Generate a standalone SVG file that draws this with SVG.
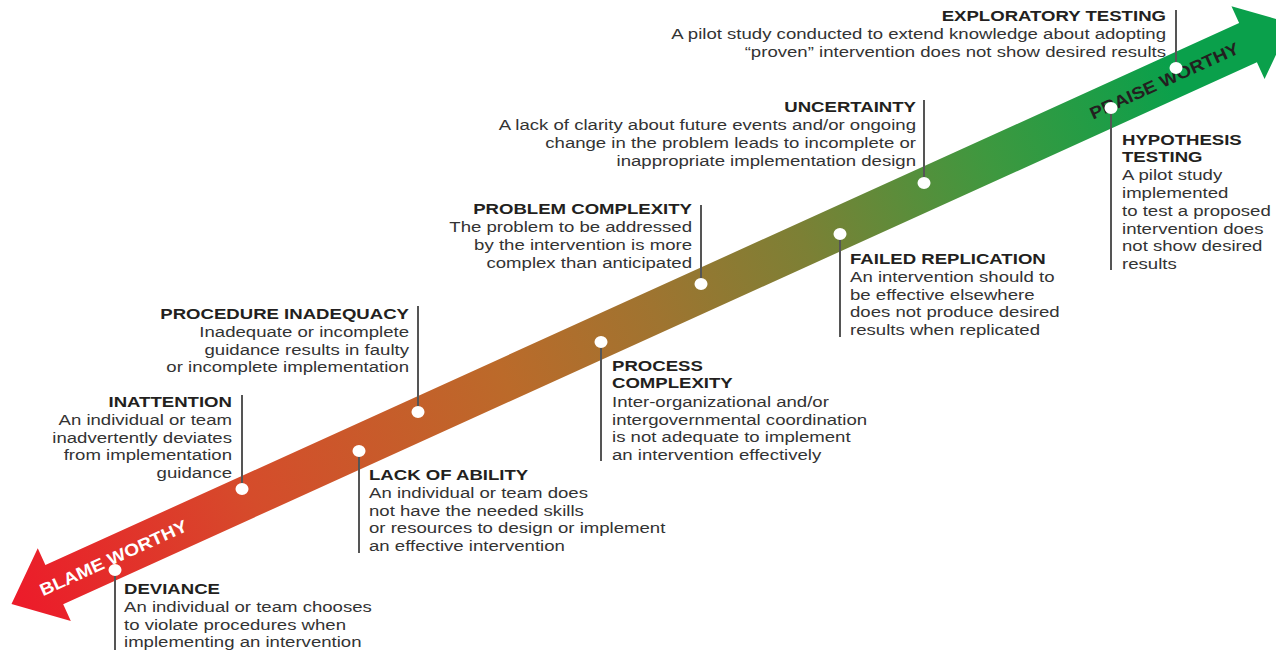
<svg xmlns="http://www.w3.org/2000/svg" width="1276" height="653" viewBox="0 0 1276 653">
<style>
.t{font-family:"Liberation Sans",Arial,sans-serif;font-size:15px;font-weight:bold;fill:#231f20}
.b{font-family:"Liberation Sans",Arial,sans-serif;font-size:15px;fill:#333}
.r{text-anchor:end}
.ln{stroke:#555;stroke-width:2;fill:none}
.dot{fill:#fff}
.lab{font-family:"Liberation Sans",Arial,sans-serif;font-size:17px;font-weight:bold;text-anchor:middle}
</style>
<defs>
<linearGradient id="grad" gradientUnits="userSpaceOnUse" x1="11" y1="0" x2="1276" y2="0">
<stop offset="0" stop-color="#ec1c2a"/>
<stop offset="0.2" stop-color="#d54c2b"/>
<stop offset="0.42" stop-color="#bb6a2a"/>
<stop offset="0.55" stop-color="#9f7430"/>
<stop offset="0.68" stop-color="#7c8035"/>
<stop offset="0.84" stop-color="#3e983f"/>
<stop offset="1" stop-color="#0aa04b"/>
</linearGradient>
</defs>
<rect width="1276" height="653" fill="#fff"/>
<g id="axis-arrow" transform="translate(11.5,604.1) rotate(-24.42)">
<polygon points="0,0 47,-40 47,-21.5 1358,-21.5 1358,-40 1405,0 1358,40 1358,21.5 47,21.5 47,40" fill="url(#grad)" transform="rotate(24.42) translate(-11.5,-604.1) translate(11.5,604.1) rotate(-24.42)"/>
<text class="lab" x="112" y="6" fill="#fff" textLength="160" lengthAdjust="spacingAndGlyphs">BLAME WORTHY</text>
<text class="lab" x="1266" y="6" fill="#231f20" textLength="162" lengthAdjust="spacingAndGlyphs">PRAISE WORTHY</text>
</g>
<g id="connectors">
<line class="ln" x1="1176" y1="10" x2="1176" y2="68"/>
<line class="ln" x1="924" y1="100" x2="924" y2="183"/>
<line class="ln" x1="701" y1="205" x2="701" y2="284"/>
<line class="ln" x1="418" y1="306" x2="418" y2="412"/>
<line class="ln" x1="242" y1="395" x2="242" y2="489"/>
<line class="ln" x1="115" y1="570" x2="115" y2="650"/>
<line class="ln" x1="359" y1="451" x2="359" y2="553"/>
<line class="ln" x1="601" y1="342" x2="601" y2="461"/>
<line class="ln" x1="840" y1="234" x2="840" y2="337"/>
<line class="ln" x1="1111" y1="108" x2="1111" y2="270"/>
</g>
<g id="exploratory-testing">
<ellipse class="dot" cx="1176" cy="68" rx="6.5" ry="6"/>
<g transform="translate(1166,0) scale(1.24,1)">
<text class="t r" x="0" y="21.5">EXPLORATORY TESTING</text>
<text class="b r" x="0" y="39">A pilot study conducted to extend knowledge about adopting</text>
<text class="b r" x="0" y="57">“proven” intervention does not show desired results</text>
</g>
</g>
<g id="uncertainty">
<ellipse class="dot" cx="924" cy="183" rx="6.5" ry="6"/>
<g transform="translate(916,0) scale(1.24,1)">
<text class="t r" x="0" y="112.5">UNCERTAINTY</text>
<text class="b r" x="0" y="130">A lack of clarity about future events and/or ongoing</text>
<text class="b r" x="0" y="148">change in the problem leads to incomplete or</text>
<text class="b r" x="0" y="166">inappropriate implementation design</text>
</g>
</g>
<g id="problem-complexity">
<ellipse class="dot" cx="701" cy="284" rx="6.5" ry="6"/>
<g transform="translate(692,0) scale(1.24,1)">
<text class="t r" x="0" y="214.5">PROBLEM COMPLEXITY</text>
<text class="b r" x="0" y="232">The problem to be addressed</text>
<text class="b r" x="0" y="250">by the intervention is more</text>
<text class="b r" x="0" y="268">complex than anticipated</text>
</g>
</g>
<g id="procedure-inadequacy">
<ellipse class="dot" cx="418" cy="412" rx="6.5" ry="6"/>
<g transform="translate(409,0) scale(1.24,1)">
<text class="t r" x="0" y="319.5">PROCEDURE INADEQUACY</text>
<text class="b r" x="0" y="337">Inadequate or incomplete</text>
<text class="b r" x="0" y="355">guidance results in faulty</text>
<text class="b r" x="0" y="372.5">or incomplete implementation</text>
</g>
</g>
<g id="inattention">
<ellipse class="dot" cx="242" cy="489" rx="6.5" ry="6"/>
<g transform="translate(232,0) scale(1.24,1)">
<text class="t r" x="0" y="407.5">INATTENTION</text>
<text class="b r" x="0" y="425">An individual or team</text>
<text class="b r" x="0" y="443">inadvertently deviates</text>
<text class="b r" x="0" y="460">from implementation</text>
<text class="b r" x="0" y="478">guidance</text>
</g>
</g>
<g id="deviance">
<ellipse class="dot" cx="115" cy="570" rx="6.5" ry="6"/>
<g transform="translate(124,0) scale(1.24,1)">
<text class="t" x="0" y="594.5">DEVIANCE</text>
<text class="b" x="0" y="612">An individual or team chooses</text>
<text class="b" x="0" y="630">to violate procedures when</text>
<text class="b" x="0" y="647">implementing an intervention</text>
</g>
</g>
<g id="lack-of-ability">
<ellipse class="dot" cx="359" cy="451" rx="6.5" ry="6"/>
<g transform="translate(369,0) scale(1.24,1)">
<text class="t" x="0" y="480.5">LACK OF ABILITY</text>
<text class="b" x="0" y="498">An individual or team does</text>
<text class="b" x="0" y="516">not have the needed skills</text>
<text class="b" x="0" y="533">or resources to design or implement</text>
<text class="b" x="0" y="551">an effective intervention</text>
</g>
</g>
<g id="process-complexity">
<ellipse class="dot" cx="601" cy="342" rx="6.5" ry="6"/>
<g transform="translate(612,0) scale(1.24,1)">
<text class="t" x="0" y="371.5">PROCESS</text>
<text class="t" x="0" y="388.5">COMPLEXITY</text>
<text class="b" x="0" y="407">Inter-organizational and/or</text>
<text class="b" x="0" y="425">intergovernmental coordination</text>
<text class="b" x="0" y="442">is not adequate to implement</text>
<text class="b" x="0" y="460">an intervention effectively</text>
</g>
</g>
<g id="failed-replication">
<ellipse class="dot" cx="840" cy="234" rx="6.5" ry="6"/>
<g transform="translate(850,0) scale(1.24,1)">
<text class="t" x="0" y="264.5">FAILED REPLICATION</text>
<text class="b" x="0" y="282">An intervention should to</text>
<text class="b" x="0" y="300">be effective elsewhere</text>
<text class="b" x="0" y="317">does not produce desired</text>
<text class="b" x="0" y="335">results when replicated</text>
</g>
</g>
<g id="hypothesis-testing">
<ellipse class="dot" cx="1111" cy="108" rx="6.5" ry="6"/>
<g transform="translate(1122,0) scale(1.24,1)">
<text class="t" x="0" y="145.5">HYPOTHESIS</text>
<text class="t" x="0" y="162.5">TESTING</text>
<text class="b" x="0" y="180">A pilot study</text>
<text class="b" x="0" y="198">implemented</text>
<text class="b" x="0" y="216">to test a proposed</text>
<text class="b" x="0" y="234">intervention does</text>
<text class="b" x="0" y="251">not show desired</text>
<text class="b" x="0" y="269">results</text>
</g>
</g>
</svg>
